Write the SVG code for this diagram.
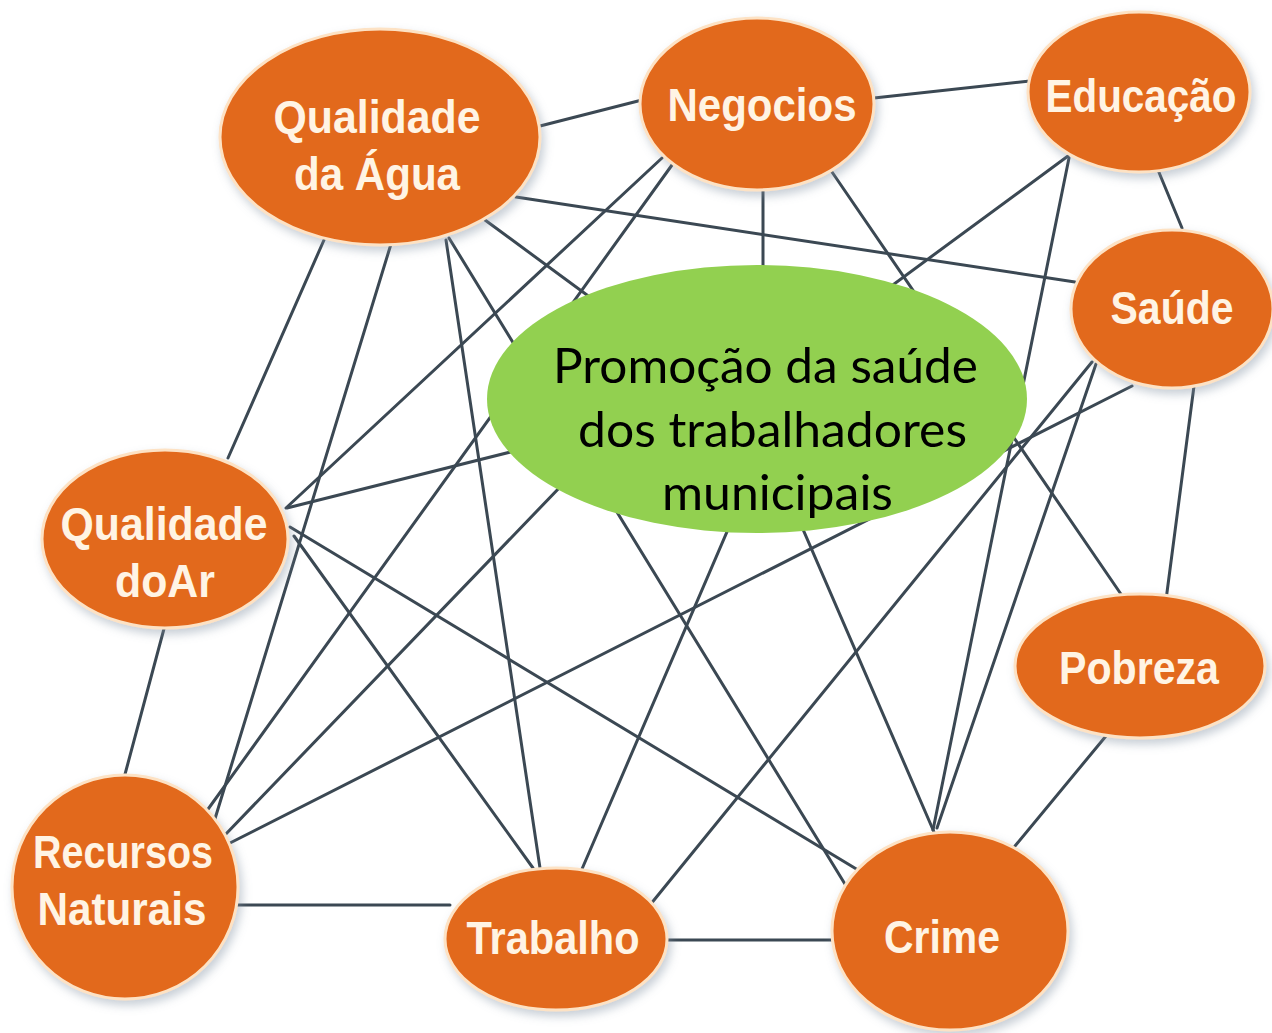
<svg xmlns="http://www.w3.org/2000/svg" width="1272" height="1033" viewBox="0 0 1272 1033">
<defs>
<filter id="sh" x="-20%" y="-20%" width="140%" height="140%">
<feDropShadow dx="3" dy="5" stdDeviation="5" flood-color="#8494a4" flood-opacity="0.45"/>
</filter>
<style>
.bg{fill:#ffffff}
.edge{stroke:#3b4853;stroke-width:3;fill:none;stroke-linecap:round}
.node{fill:#e2691c;stroke:#fde2c4;stroke-width:3;filter:url(#sh)}
.lbl{font-family:"Liberation Sans Narrow","Liberation Sans",Arial,sans-serif;font-weight:bold;font-size:46px;fill:#fff4e4;text-anchor:middle}
.center{fill:#92d050}
.ctxt{font-family:Lato,"Liberation Sans",Arial,sans-serif;font-size:49px;fill:#000000}
</style>
</defs>
<rect class="bg" x="0" y="0" width="1272" height="1033"/>
<g id="connectors">
<path class="edge" d="M540,126 L642,100"/>
<path class="edge" d="M874,98 L1030,81"/>
<path class="edge" d="M1158,170 L1182,228"/>
<path class="edge" d="M516,197 L1075,282"/>
<path class="edge" d="M662,158 L286,508"/>
<path class="edge" d="M672,165 L206,812"/>
<path class="edge" d="M763,188 L763,330"/>
<path class="edge" d="M832,172 L1125,600"/>
<path class="edge" d="M1068,156 L780,368"/>
<path class="edge" d="M1069,158 L933,830"/>
<path class="edge" d="M1194,386 L1166,600"/>
<path class="edge" d="M1092,362 L650,905"/>
<path class="edge" d="M1096,364 L937,828"/>
<path class="edge" d="M1132,386 L228,844"/>
<path class="edge" d="M1106,736 L1015,846"/>
<path class="edge" d="M665,940 L835,940"/>
<path class="edge" d="M236,905 L450,905"/>
<path class="edge" d="M165,625 L124,778"/>
<path class="edge" d="M324,240 L228,458"/>
<path class="edge" d="M391,244 L214,822"/>
<path class="edge" d="M446,240 L540,868"/>
<path class="edge" d="M449,238 L848,889"/>
<path class="edge" d="M485,220 L640,334"/>
<path class="edge" d="M287,508 L650,417"/>
<path class="edge" d="M290,527 L858,870"/>
<path class="edge" d="M294,536 L533,868"/>
<path class="edge" d="M582,869 L760,455"/>
<path class="edge" d="M934,832 L760,430"/>
<path class="edge" d="M224,836 L640,404"/>
</g>
<g id="qualidade-agua">
<ellipse class="node" cx="380" cy="137" rx="160" ry="108"/>
<text class="lbl" x="377" y="133" textLength="207" lengthAdjust="spacingAndGlyphs">Qualidade</text>
<text class="lbl" x="377" y="190" textLength="166" lengthAdjust="spacingAndGlyphs">da Água</text>
</g>
<g id="negocios">
<ellipse class="node" cx="757" cy="104" rx="117" ry="86"/>
<text class="lbl" x="762" y="121" textLength="189" lengthAdjust="spacingAndGlyphs">Negocios</text>
</g>
<g id="educacao">
<ellipse class="node" cx="1139" cy="92" rx="111" ry="80"/>
<text class="lbl" x="1141" y="112" textLength="191" lengthAdjust="spacingAndGlyphs">Educação</text>
</g>
<g id="saude">
<ellipse class="node" cx="1172" cy="309" rx="101" ry="79"/>
<text class="lbl" x="1172" y="324" textLength="123" lengthAdjust="spacingAndGlyphs">Saúde</text>
</g>
<g id="qualidade-ar">
<ellipse class="node" cx="165" cy="539" rx="123" ry="89"/>
<text class="lbl" x="164" y="540" textLength="207" lengthAdjust="spacingAndGlyphs">Qualidade</text>
<text class="lbl" x="165" y="597" textLength="100" lengthAdjust="spacingAndGlyphs">doAr</text>
</g>
<g id="pobreza">
<ellipse class="node" cx="1140" cy="666" rx="125" ry="72"/>
<text class="lbl" x="1139" y="684" textLength="160" lengthAdjust="spacingAndGlyphs">Pobreza</text>
</g>
<g id="recursos-naturais">
<ellipse class="node" cx="125" cy="887" rx="113" ry="112"/>
<text class="lbl" x="123" y="868" textLength="180" lengthAdjust="spacingAndGlyphs">Recursos</text>
<text class="lbl" x="122" y="925" textLength="169" lengthAdjust="spacingAndGlyphs">Naturais</text>
</g>
<g id="trabalho">
<ellipse class="node" cx="556" cy="939" rx="111" ry="71"/>
<text class="lbl" x="553" y="954" textLength="173" lengthAdjust="spacingAndGlyphs">Trabalho</text>
</g>
<g id="crime">
<ellipse class="node" cx="950" cy="931" rx="118" ry="99"/>
<text class="lbl" x="942" y="953" textLength="116" lengthAdjust="spacingAndGlyphs">Crime</text>
</g>
<g id="promocao">
<ellipse class="center" cx="757" cy="399" rx="270" ry="134"/>
<text class="ctxt" x="553" y="383" textLength="425" lengthAdjust="spacingAndGlyphs">Promoção da saúde</text>
<text class="ctxt" x="578" y="447" textLength="389" lengthAdjust="spacingAndGlyphs">dos trabalhadores</text>
<text class="ctxt" x="662" y="510" textLength="231" lengthAdjust="spacingAndGlyphs">municipais</text>
</g>
</svg>
